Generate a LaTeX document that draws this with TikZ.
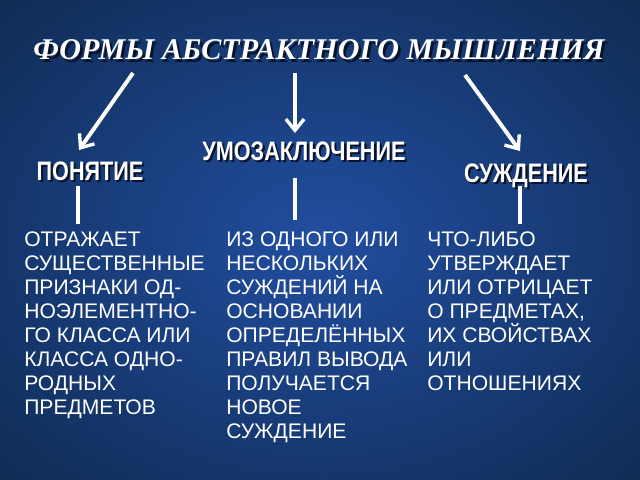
\documentclass[tikz,border=0pt]{standalone}
\usepackage{fontspec}
\usepackage{graphicx}
\setmainfont{Liberation Serif}
\setsansfont{Liberation Sans}
\newfontfamily\bodyfont{Liberation Sans}
\usetikzlibrary{arrows.meta,shadings}
\definecolor{bgin}{RGB}{34,78,160}
\definecolor{bgout}{RGB}{14,42,80}
\definecolor{shadowc}{RGB}{8,18,42}
\tikzset{
  px/.style={x=0.025cm,y=-0.025cm},
  titletext/.style={font=\fontsize{21.4}{26}\selectfont\rmfamily\bfseries\itshape, text=white, inner sep=0pt},
  headtext/.style={font=\fontsize{19}{22}\selectfont\sffamily\bfseries, text=white, inner sep=0pt, anchor=base},
  bodytext/.style={font=\fontsize{15}{17.07}\selectfont\bodyfont, text=white, inner sep=0pt, align=left, anchor=north west},
  flowarrow/.style={draw=white, line width=2.8pt, -{Straight Barb[length=8pt,width=13pt,line width=2.4pt]}},
  barline/.style={draw=white, line width=3pt},
}
\newcommand{\shadowtext}[1]{\leavevmode\rlap{\kern1.8pt\raisebox{-1.8pt}{\textcolor{shadowc}{#1}}}#1}
\newcommand{\hscale}[1]{\scalebox{0.81}[1]{\shadowtext{#1}}}
\begin{document}
\begin{tikzpicture}[px]
\useasboundingbox (0,0) rectangle (640,480);
\shade[inner color=bgin, outer color=bgout] (-160,-120) rectangle (800,600);
% title
\node[titletext] (title) at (319,51) {\shadowtext{ФОРМЫ АБСТРАКТНОГО МЫШЛЕНИЯ}};
% headers
\node[headtext] (ponyatie) at (90,180) {\hscale{ПОНЯТИЕ}};
\node[headtext] (umoz) at (304,160) {\hscale{УМОЗАКЛЮЧЕНИЕ}};
\node[headtext] (suzh) at (526,182) {\hscale{СУЖДЕНИЕ}};
% arrows
\coordinate (a1s) at (133,73); \coordinate (a1e) at (79,150);
\coordinate (a2s) at (295,73); \coordinate (a2e) at (295,133);
\coordinate (a3s) at (465,75); \coordinate (a3e) at (520,151);
\draw[flowarrow] (a1s) -- (a1e);
\draw[flowarrow] (a2s) -- (a2e);
\draw[flowarrow] (a3s) -- (a3e);
% bars
\coordinate (b1s) at (78,186); \coordinate (b1e) at (78,224);
\coordinate (b2s) at (295,178); \coordinate (b2e) at (295,220);
\coordinate (b3s) at (520,186); \coordinate (b3e) at (520,224);
\draw[barline] (b1s) -- (b1e);
\draw[barline] (b2s) -- (b2e);
\draw[barline] (b3s) -- (b3e);
% body texts
\node[bodytext] (t1) at (24,231) {ОТРАЖАЕТ\\СУЩЕСТВЕННЫЕ\\ПРИЗНАКИ ОД-\\НОЭЛЕМЕНТНО-\\ГО КЛАССА ИЛИ\\КЛАССА ОДНО-\\РОДНЫХ\\ПРЕДМЕТОВ};
\node[bodytext] (t2) at (226,231) {ИЗ ОДНОГО ИЛИ\\НЕСКОЛЬКИХ\\СУЖДЕНИЙ НА\\ОСНОВАНИИ\\ОПРЕДЕЛЁННЫХ\\ПРАВИЛ ВЫВОДА\\ПОЛУЧАЕТСЯ\\НОВОЕ\\СУЖДЕНИЕ};
\node[bodytext] (t3) at (427,231) {ЧТО-ЛИБО\\УТВЕРЖДАЕТ\\ИЛИ ОТРИЦАЕТ\\О ПРЕДМЕТАХ,\\ИХ СВОЙСТВАХ\\ИЛИ\\ОТНОШЕНИЯХ};
\end{tikzpicture}
\end{document}
